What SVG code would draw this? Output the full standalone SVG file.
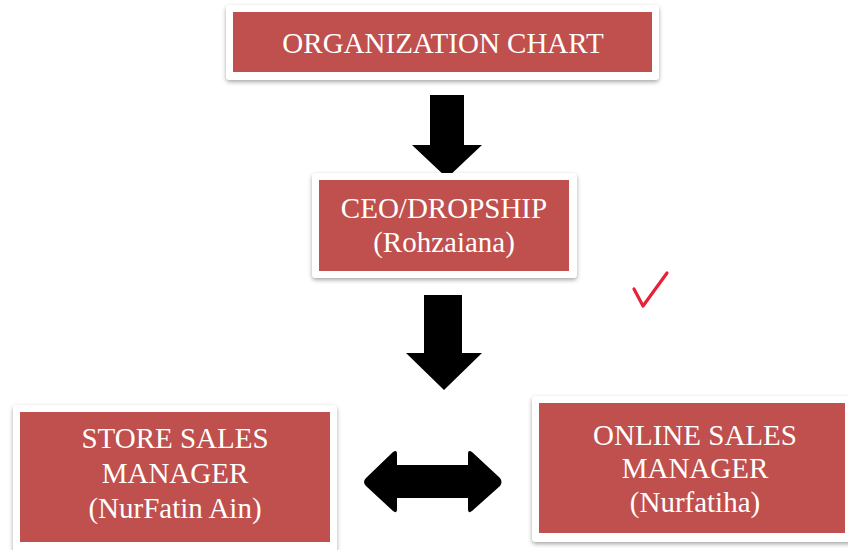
<svg xmlns="http://www.w3.org/2000/svg" width="848" height="550" viewBox="0 0 848 550">
<defs>
<filter id="sh" x="-10%" y="-10%" width="120%" height="130%">
<feDropShadow dx="0" dy="2" stdDeviation="2" flood-color="#000" flood-opacity="0.35"/>
</filter>
</defs>
<style>
.frame{fill:#ffffff;filter:url(#sh)}
.box{fill:#C0504D}
.t{font-family:"Liberation Serif","Times New Roman",serif;font-size:29px;fill:#ffffff;text-anchor:middle}
.arr{fill:#000000}
</style>
<rect width="848" height="550" fill="#ffffff"/>
<g id="connectors">
<polygon class="arr" points="430,95 464,95 464,145 482,145 447,178 412,145 430,145"/>
<polygon class="arr" points="424,295 462,295 462,353 482,353 444,390 406,353 424,353"/>
<path class="arr" d="M366,478 L393,452 Q397,449 397,454 L397,465 L468,465 L468,454 Q468,449 472,452 L500,478 Q503,482 500,486 L472,511 Q468,514 468,509 L468,498 L397,498 L397,509 Q397,514 393,511 L366,486 Q362,482 366,478 Z"/>
</g>
<g id="node-title">
<rect class="frame" x="226" y="5" width="433" height="75" rx="4"/>
<rect class="box" x="233" y="12" width="419" height="60"/>
<text class="t" x="443" y="53">ORGANIZATION CHART</text>
</g>
<g id="node-ceo">
<rect class="frame" x="312" y="173" width="265" height="105" rx="4"/>
<rect class="box" x="319" y="180" width="250" height="91"/>
<text class="t" x="444" y="218">CEO/DROPSHIP</text>
<text class="t" x="444" y="252">(Rohzaiana)</text>
</g>
<g id="node-store">
<rect class="frame" x="13" y="405" width="324" height="150" rx="4"/>
<rect class="box" x="20" y="412" width="310" height="130"/>
<text class="t" x="175" y="448">STORE SALES</text>
<text class="t" x="175" y="483">MANAGER</text>
<text class="t" x="175" y="518">(NurFatin Ain)</text>
</g>
<g id="node-online">
<rect class="frame" x="532" y="396" width="330" height="146" rx="4"/>
<rect class="box" x="539" y="403" width="306" height="130"/>
<text class="t" x="695" y="445">ONLINE SALES</text>
<text class="t" x="695" y="478">MANAGER</text>
<text class="t" x="695" y="512">(Nurfatiha)</text>
</g>
<polyline points="634,289 643,306 667,273" fill="none" stroke="#E8213A" stroke-width="3.2" stroke-linecap="round" stroke-linejoin="round"/>
</svg>
